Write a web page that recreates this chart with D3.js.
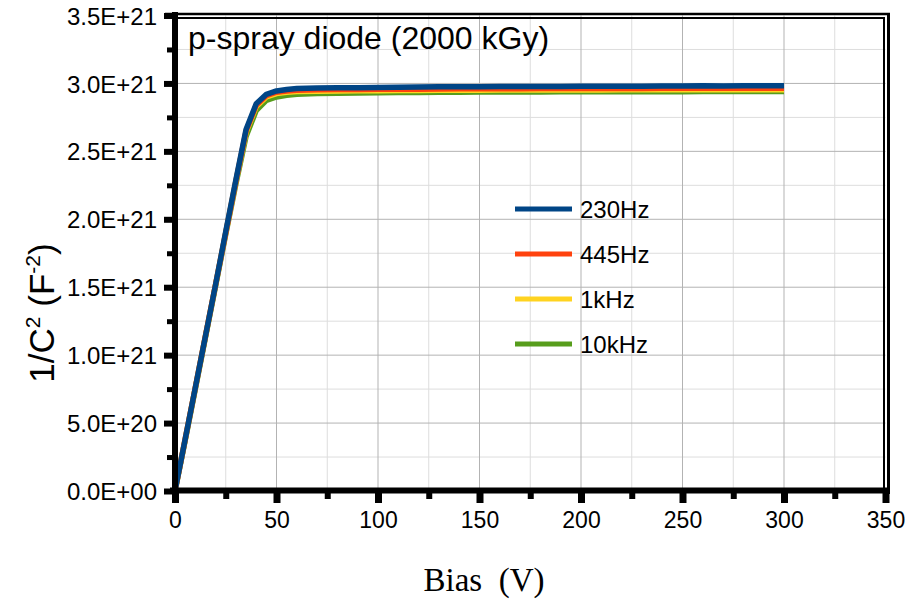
<!DOCTYPE html>
<html>
<head>
<meta charset="utf-8">
<script src="https://cdn.jsdelivr.net/npm/d3@7"></script>
<style>
  body { margin: 0; background: #ffffff; }
  svg { display: block; font-family: "Liberation Sans", Arial, sans-serif; }
</style>
</head>
<body>
<svg id="chart"></svg>
<script>
// bias voltage (V)
const biasV = [0, 5, 10, 15, 20, 25, 30, 35, 40, 45, 50, 55, 60, 70, 80, 90, 100, 110, 120, 130, 140, 150,
  160, 170, 180, 190, 200, 210, 220, 230, 240, 250, 260, 270, 280, 290, 300];

// 1/C^2 in units of 1E+21 F^-2
const c230Hz = [0, 0.38, 0.76, 1.14, 1.52, 1.91, 2.29, 2.66, 2.85, 2.92, 2.945, 2.955, 2.962, 2.966, 2.968, 2.969,
  2.970, 2.972, 2.973, 2.975, 2.975, 2.976, 2.977, 2.977, 2.978, 2.978, 2.979, 2.980, 2.979, 2.980, 2.981,
  2.981, 2.983, 2.981, 2.982, 2.982, 2.983];
const c445Hz = [0, 0.38, 0.76, 1.14, 1.52, 1.90, 2.28, 2.65, 2.84, 2.91, 2.935, 2.945, 2.950, 2.953, 2.955, 2.956,
  2.957, 2.958, 2.958, 2.959, 2.960, 2.960, 2.961, 2.961, 2.962, 2.962, 2.962, 2.963, 2.963, 2.963, 2.964,
  2.964, 2.964, 2.964, 2.965, 2.965, 2.965];
const c1kHz = [0, 0.38, 0.76, 1.14, 1.52, 1.90, 2.28, 2.64, 2.83, 2.90, 2.925, 2.935, 2.940, 2.943, 2.945, 2.946,
  2.947, 2.948, 2.948, 2.949, 2.950, 2.950, 2.951, 2.951, 2.951, 2.952, 2.952, 2.952, 2.953, 2.953, 2.953,
  2.953, 2.954, 2.954, 2.954, 2.954, 2.954];
const c10kHz = [0, 0.37, 0.75, 1.13, 1.51, 1.89, 2.26, 2.61, 2.80, 2.875, 2.90, 2.912, 2.92, 2.925, 2.928, 2.930,
  2.932, 2.933, 2.934, 2.935, 2.935, 2.936, 2.936, 2.937, 2.937, 2.938, 2.938, 2.938, 2.939, 2.939, 2.939,
  2.939, 2.940, 2.940, 2.940, 2.940, 2.940];

const seriesNames = ["230Hz", "445Hz", "1kHz", "10kHz"];
const seriesColors = ["#004586", "#ff420e", "#ffd320", "#579d1c"];

const xTicks = [0, 50, 100, 150, 200, 250, 300, 350];
const xTickLabels = ["0", "50", "100", "150", "200", "250", "300", "350"];
const yTicks = [0, 0.5, 1.0, 1.5, 2.0, 2.5, 3.0, 3.5];
const yTickLabels = ["0.0E+00", "5.0E+20", "1.0E+21", "1.5E+21", "2.0E+21", "2.5E+21", "3.0E+21", "3.5E+21"];
const xMinorTicks = [25, 75, 125, 175, 225, 275, 325];
const yMinorTicks = [0.25, 0.75, 1.25, 1.75, 2.25, 2.75, 3.25];

const width = 923;
const height = 600;
const plot = { left: 175, right: 885.5, top: 15.5, bottom: 491 };

const svg = d3.select("#chart").attr("width", width).attr("height", height);

const x = d3.scaleLinear().domain([0, 350]).range([plot.left, plot.right]);
const y = d3.scaleLinear().domain([0, 3.5]).range([plot.bottom, plot.top]);

// grid
const grid = svg.append("g");
grid.selectAll(".vminor").data(xMinorTicks).enter().append("line")
  .attr("x1", d => x(d)).attr("x2", d => x(d))
  .attr("y1", plot.top).attr("y2", plot.bottom)
  .attr("stroke", "#dddddd").attr("stroke-width", 1);
grid.selectAll(".hminor").data(yMinorTicks).enter().append("line")
  .attr("x1", plot.left).attr("x2", plot.right)
  .attr("y1", d => y(d)).attr("y2", d => y(d))
  .attr("stroke", "#dddddd").attr("stroke-width", 1);
grid.selectAll(".vmajor").data(xTicks.slice(1, -1)).enter().append("line")
  .attr("x1", d => x(d)).attr("x2", d => x(d))
  .attr("y1", plot.top).attr("y2", plot.bottom)
  .attr("stroke", "#b3b3b3").attr("stroke-width", 1);
grid.selectAll(".hmajor").data(yTicks.slice(1, -1)).enter().append("line")
  .attr("x1", plot.left).attr("x2", plot.right)
  .attr("y1", d => y(d)).attr("y2", d => y(d))
  .attr("stroke", "#b3b3b3").attr("stroke-width", 1);

// frame (double line on top and right)
svg.append("line").attr("x1", 165).attr("x2", 890).attr("y1", 14).attr("y2", 14)
  .attr("stroke", "#000").attr("stroke-width", 2.5);
svg.append("line").attr("x1", plot.left).attr("x2", 885).attr("y1", 18).attr("y2", 18)
  .attr("stroke", "#000").attr("stroke-width", 2);
svg.append("line").attr("x1", 888.5).attr("x2", 888.5).attr("y1", 13).attr("y2", 494)
  .attr("stroke", "#000").attr("stroke-width", 3);
svg.append("line").attr("x1", 884).attr("x2", 884).attr("y1", 17).attr("y2", 494)
  .attr("stroke", "#000").attr("stroke-width", 2);

// series
const line = d3.line()
  .x((d, i) => x(biasV[i]))
  .y(d => y(d));
const allSeries = [c230Hz, c445Hz, c1kHz, c10kHz];
for (let s = allSeries.length - 1; s >= 0; s--) {
  svg.append("path")
    .datum(allSeries[s])
    .attr("d", line)
    .attr("fill", "none")
    .attr("stroke", seriesColors[s])
    .attr("stroke-width", 5.5)
    .attr("stroke-linejoin", "round");
}

// axes
const xAxis = svg.append("g").attr("transform", "translate(0," + plot.bottom + ")")
  .call(d3.axisBottom(x).tickValues(xTicks).tickFormat((d, i) => xTickLabels[i]).tickSize(12).tickPadding(8).tickSizeOuter(0));
xAxis.select(".domain").remove();
xAxis.selectAll(".tick line").attr("stroke", "#000").attr("stroke-width", 7);
xAxis.selectAll("text").attr("fill", "#000").style("font-size", "23px").attr("dy", "0.75em");

const xMinor = svg.append("g").attr("transform", "translate(0," + plot.bottom + ")")
  .call(d3.axisBottom(x).tickValues(xMinorTicks).tickFormat("").tickSize(8).tickSizeOuter(0));
xMinor.select(".domain").remove();
xMinor.selectAll(".tick line").attr("stroke", "#000").attr("stroke-width", 6);

const yAxis = svg.append("g").attr("transform", "translate(" + plot.left + ",0)")
  .call(d3.axisLeft(y).tickValues(yTicks).tickFormat((d, i) => yTickLabels[i]).tickSize(11).tickPadding(7).tickSizeOuter(0));
yAxis.select(".domain").remove();
yAxis.selectAll(".tick line").attr("stroke", "#000").attr("stroke-width", 6);
yAxis.selectAll("text").attr("fill", "#000").style("font-size", "24px").attr("dy", "0.36em");

const yMinor = svg.append("g").attr("transform", "translate(" + plot.left + ",0)")
  .call(d3.axisLeft(y).tickValues(yMinorTicks).tickFormat("").tickSize(8).tickSizeOuter(0));
yMinor.select(".domain").remove();
yMinor.selectAll(".tick line").attr("stroke", "#000").attr("stroke-width", 5);

// thick axis lines
svg.append("line").attr("x1", plot.left).attr("x2", plot.left).attr("y1", 12).attr("y2", 494)
  .attr("stroke", "#000").attr("stroke-width", 6);
svg.append("line").attr("x1", 170).attr("x2", 890).attr("y1", plot.bottom - 0.5).attr("y2", plot.bottom - 0.5)
  .attr("stroke", "#000").attr("stroke-width", 6);

// title
svg.append("text")
  .attr("x", 188).attr("y", 49)
  .style("font-size", "32px")
  .attr("fill", "#000")
  .text("p-spray diode (2000 kGy)");

// legend
const legend = svg.append("g");
seriesNames.forEach(function (name, i) {
  const ly = 209 + i * 45;
  legend.append("line")
    .attr("x1", 515).attr("x2", 572).attr("y1", ly).attr("y2", ly)
    .attr("stroke", seriesColors[i]).attr("stroke-width", 5);
  legend.append("text")
    .attr("x", 580).attr("y", ly + 8.5)
    .style("font-size", "24px")
    .attr("fill", "#000")
    .text(name);
});

// axis titles
svg.append("text")
  .attr("x", 484).attr("y", 591)
  .attr("text-anchor", "middle")
  .style("font-family", "'Liberation Serif', 'Times New Roman', serif")
  .style("font-size", "33px")
  .attr("fill", "#000")
  .text("Bias\u00a0\u00a0(V)");

const yTitle = svg.append("text")
  .attr("transform", "translate(54,313) rotate(-90)")
  .attr("text-anchor", "middle")
  .style("font-size", "35px")
  .attr("fill", "#000");
yTitle.append("tspan").text("1/C");
yTitle.append("tspan").attr("dy", -14).style("font-size", "21px").text("2");
yTitle.append("tspan").attr("dy", 14).text(" (F");
yTitle.append("tspan").attr("dy", -14).style("font-size", "21px").text("-2");
yTitle.append("tspan").attr("dy", 14).text(")");
</script>
</body>
</html>
